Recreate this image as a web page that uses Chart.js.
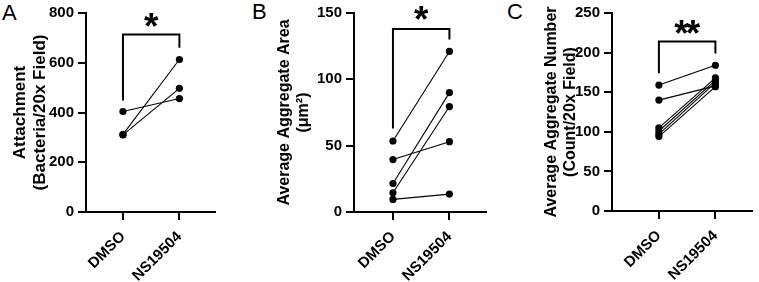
<!DOCTYPE html>
<html>
<head>
<meta charset="utf-8">
<script src="https://cdn.jsdelivr.net/npm/chart.js@4.4.0/dist/chart.umd.min.js"></script>
<style>
  body { margin: 0; background: #fff; width: 759px; height: 282px; position: relative; overflow: hidden;
         font-family: 'Liberation Sans', Arial, sans-serif; }
  .panel { position: absolute; top: 0; height: 282px; }
  .letter { position: absolute; font-size: 22px; color: #000; line-height: 1; }
</style>
</head>
<body>
<div class="letter" style="left:2px;top:2px">A</div>
<div class="letter" style="left:252px;top:1px">B</div>
<div class="letter" style="left:507px;top:1px">C</div>
<div class="panel" style="left:0;width:219px"><canvas id="chart-a"></canvas></div>
<div class="panel" style="left:253px;width:237px"><canvas id="chart-b"></canvas></div>
<div class="panel" style="left:506px;width:250px"><canvas id="chart-c"></canvas></div>
<script>
const groups = ['DMSO', 'NS19504'];

// panel A: attachment
const attachDMSO = [404, 312, 310];
const attachNS   = [456, 613, 497];
const attachTicks = [0, 200, 400, 600, 800];
const attachBracket = [448, 714, 660];   // left foot, top, right foot

// panel B: aggregate area
const areaDMSO = [53.5, 39.5, 21.5, 14.5, 9.5];
const areaNS   = [121, 53, 90, 79.5, 13.5];
const areaTicks = [0, 50, 100, 150];
const areaBracket = [63, 138, 130];

// panel C: aggregate number
const countDMSO = [159, 140, 105, 101, 97, 94];
const countNS   = [184, 158, 168, 165, 162, 157];
const countTicks = [0, 50, 100, 150, 200, 250];
const countBracket = [174, 214, 199];

const FONT = "'Liberation Sans', Arial, sans-serif";

// significance stars over the bracket
const starPlugin = {
  id: 'stars',
  afterDatasetsDraw(chart, args, opts) {
    const { ctx, scales: { x, y } } = chart;
    const chars = opts.text.split('');
    const cx = x.getPixelForValue(0.5);
    const base = y.getPixelForValue(opts.level) + opts.dy;
    ctx.save();
    ctx.fillStyle = '#000';
    ctx.font = `bold 37px ${FONT}`;
    ctx.textAlign = 'center';
    ctx.textBaseline = 'alphabetic';
    chars.forEach((c, i) => ctx.fillText(c, cx + (i - (chars.length - 1) / 2) * 11.5, base));
    ctx.restore();
  }
};

function makePanel(id, dmso, ns, ticks, bracket, star, starDy, title, titleSize, xmin, xmax, yWidth, titlePad, top) {
  const pairs = dmso.map((d, i) => ({
    data: [{ x: 0, y: d }, { x: 1, y: ns[i] }],
    borderColor: '#000', backgroundColor: '#000',
    borderWidth: 1.1, pointRadius: 3.6, pointHoverRadius: 3.6,
    pointBackgroundColor: '#000', pointBorderWidth: 0, clip: false
  }));
  pairs.push({
    data: [{ x: 0, y: bracket[0] }, { x: 0, y: bracket[1] }, { x: 1, y: bracket[1] }, { x: 1, y: bracket[2] }],
    borderColor: '#000', borderWidth: 2, pointRadius: 0, clip: false, borderCapStyle: 'butt'
  });

  const axisLine = { color: '#000', width: 2 };
  const tickMarks = { drawOnChartArea: false, color: '#000', tickColor: '#000', tickWidth: 2, tickLength: 8, lineWidth: 2 };

  return new Chart(document.getElementById(id), {
    type: 'line',
    data: { datasets: pairs },
    options: {
      responsive: true, maintainAspectRatio: false, animation: false,
      layout: { padding: { top: top, left: 0, right: 0, bottom: 0 } },
      plugins: {
        legend: { display: false }, tooltip: { enabled: false },
        stars: { text: star, level: bracket[1], dy: starDy }
      },
      scales: {
        x: {
          type: 'linear', min: xmin, max: xmax,
          afterBuildTicks: s => { s.ticks = [{ value: 0 }, { value: 1 }]; },
          afterFit: s => { s.height = 282 - top - 200; },
          grid: tickMarks, border: axisLine,
          ticks: {
            color: '#000', font: { family: FONT, size: 15, weight: 'bold' },
            minRotation: 45, maxRotation: 45, autoSkip: false, padding: 8,
            callback: v => groups[v]
          }
        },
        y: {
          type: 'linear', min: 0, max: ticks[ticks.length - 1],
          afterBuildTicks: s => { s.ticks = ticks.map(v => ({ value: v })); },
          afterFit: s => { s.width = yWidth; },
          grid: tickMarks, border: axisLine,
          ticks: { color: '#000', font: { family: FONT, size: 15, weight: 'bold' }, padding: 4 },
          title: {
            display: true, text: title, color: '#000',
            font: { family: FONT, size: titleSize, weight: 'bold', lineHeight: 1.2 },
            padding: { top: titlePad, bottom: 0 }
          }
        }
      }
    },
    plugins: [starPlugin]
  });
}

makePanel('chart-a', attachDMSO, attachNS, attachTicks, attachBracket, '*', 5,
  ['Attachment', '(Bacteria/20x Field)'], 17, -0.655, 1.638, 86, 10, 12);
makePanel('chart-b', areaDMSO, areaNS, areaTicks, areaBracket, '*', 3,
  ['Average Aggregate Area', '(\u03bcm\u00b2)'], 16, -0.69, 1.655, 101, 22, 12);
makePanel('chart-c', countDMSO, countNS, countTicks, countBracket, '**', 4,
  ['Average Aggregate Number', '(Count/20x Field)'], 16, -0.83, 1.655, 106, 36, 11);
</script>
</body>
</html>
